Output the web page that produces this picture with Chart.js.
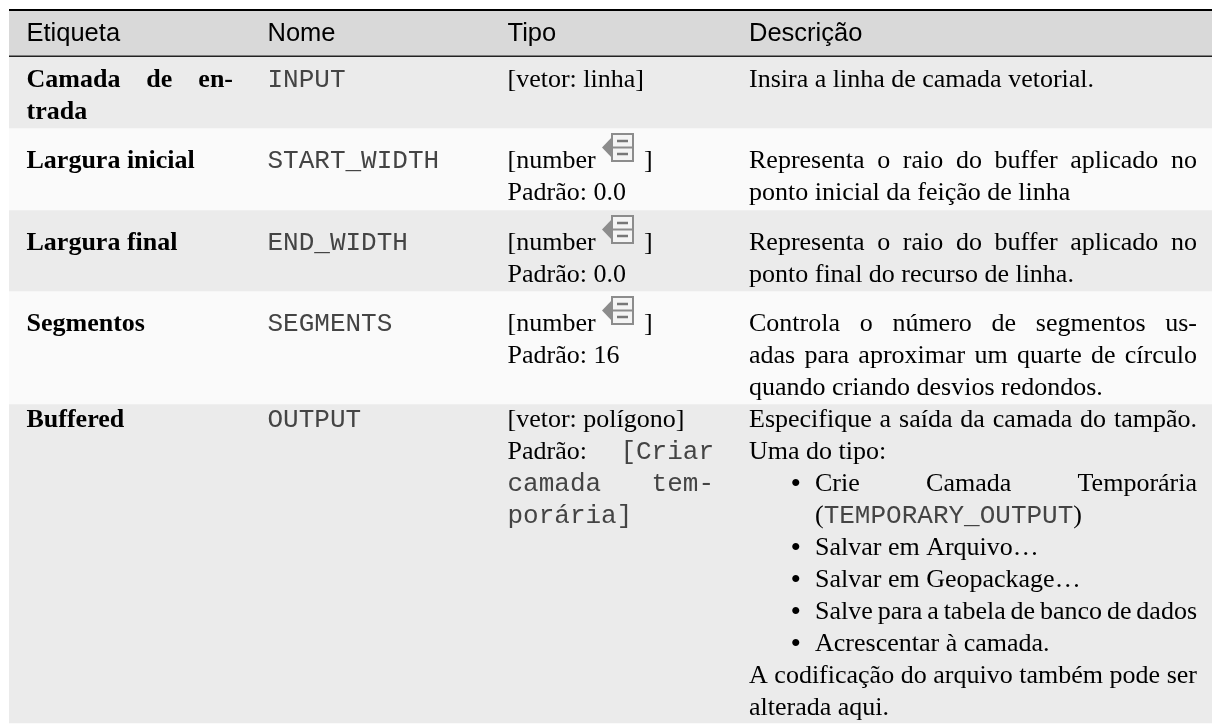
<!DOCTYPE html>
<html lang="pt">
<head>
<meta charset="utf-8">
<style>
  html, body { margin: 0; padding: 0; background: #ffffff; }
  canvas { display: block; }
</style>
<script src="https://cdn.jsdelivr.net/npm/chart.js@4"></script>
</head>
<body>
<canvas id="tabela" width="1212" height="724"></canvas>
<script>
// textos da tabela, coluna por coluna
const cabecalhos = ['Etiqueta', 'Nome', 'Tipo', 'Descrição'];
const etiquetas = [['Camada de en-', 'trada'], ['Largura inicial'], ['Largura final'], ['Segmentos'], ['Buffered']];
const nomes = ['INPUT', 'START_WIDTH', 'END_WIDTH', 'SEGMENTS', 'OUTPUT'];
const tiposLinha1 = ['[vetor: linha]', '[number', '[number', '[number', '[vetor: polígono]'];
const tiposPadrao = ['', 'Padrão: 0.0', 'Padrão: 0.0', 'Padrão: 16', 'Padrão:'];
const tiposMono = [['[Criar'], ['camada', 'tem-'], ['porária]']];
const descricoes = [
    ['Insira a linha de camada vetorial.'],
    ['Representa o raio do buffer aplicado no', 'ponto inicial da feição de linha'],
    ['Representa o raio do buffer aplicado no', 'ponto final do recurso de linha.'],
    ['Controla o número de segmentos us-', 'adas para aproximar um quarte de círculo', 'quando criando desvios redondos.'],
    ['Especifique a saída da camada do tampão.', 'Uma do tipo:']
];
const opcoesSaida = ['Crie Camada Temporária', '', 'Salvar em Arquivo…', 'Salvar em Geopackage…', 'Salve para a tabela de banco de dados', 'Acrescentar à camada.'];
const constanteSaida = 'TEMPORARY_OUTPUT';
const notaSaida = ['A codificação do arquivo também pode ser', 'alterada aqui.'];

// geometria (unidades dos eixos = pixels da imagem)
const colunas = [26.5, 267.5, 507.5, 749];
const fimColunas = [233, 0, 714, 1197];
const bordasFaixas = [11, 56, 128, 210, 291, 404, 723];
const coresFaixas = ['#d9d9d9', '#ebebeb', '#fafafa', '#ebebeb', '#fafafa', '#ebebeb'];
const baseCabecalho = 41;
const basesLinhas = [87, 168, 250, 331, 427];
const alturaLinha = 32;
const recuoLista = 815;
const recuoMarcador = 790.5;
const iconeTopo = [134, 216, 297];

const fonteCabecalho = '25.5px "Liberation Sans"';
const fonteTexto = '26px "Liberation Serif"';
const fonteNegrito = 'bold 26px "Liberation Serif"';
const fonteMono = '26px "Liberation Mono"';
const fonteMarcador = '30px "Liberation Serif"';
const corTexto = '#000000';
const corMono = '#444444';
const corIcone = '#8c8c8c';

const xPx = (chart, v) => chart.scales.xTexto.getPixelForValue(v);
const yPx = (chart, v) => chart.scales.y.getPixelForValue(v);

function escreve(c, texto, x, y, fonte, cor) {
    c.font = fonte;
    c.fillStyle = cor;
    c.textAlign = 'left';
    c.textBaseline = 'alphabetic';
    c.fillText(texto, x, y);
}

// linha justificada: distribui o espaço entre as palavras
function justifica(c, texto, x0, x1, y, fonte, cor) {
    c.font = fonte;
    const palavras = texto.split(' ');
    const total = palavras.reduce((s, p) => s + c.measureText(p).width, 0);
    const vao = (x1 - x0 - total) / (palavras.length - 1);
    let x = x0;
    palavras.forEach(p => {
        escreve(c, p, x, y, fonte, cor);
        x += c.measureText(p).width + vao;
    });
}

function icone(c, chart, topo) {
    const x0 = xPx(chart, 612), x1 = xPx(chart, 633);
    const y0 = yPx(chart, topo), y1 = yPx(chart, topo + 27), meio = yPx(chart, topo + 13.5);
    c.save();
    c.fillStyle = corIcone;
    c.beginPath();
    c.moveTo(xPx(chart, 602), meio);
    c.lineTo(x0 + 1, y0 + 2);
    c.lineTo(x0 + 1, y1 - 2);
    c.closePath();
    c.fill();
    c.fillStyle = '#f4f4f4';
    c.strokeStyle = corIcone;
    c.lineWidth = 2;
    c.fillRect(x0, y0, x1 - x0, y1 - y0);
    c.strokeRect(x0, y0, x1 - x0, y1 - y0);
    c.beginPath();
    c.moveTo(x0, meio);
    c.lineTo(x1, meio);
    c.stroke();
    c.strokeStyle = '#777777';
    c.lineWidth = 2.5;
    c.beginPath();
    c.moveTo(x0 + 5, y0 + 7);
    c.lineTo(x1 - 5, y0 + 7);
    c.moveTo(x0 + 5, y1 - 7);
    c.lineTo(x1 - 5, y1 - 7);
    c.stroke();
    c.restore();
}

const textoTabela = {
    id: 'textoTabela',
    afterDatasetsDraw(chart) {
        const c = chart.ctx;
        const X = colunas.map(v => xPx(chart, v));

        // filetes do cabeçalho
        c.fillStyle = '#000000';
        c.fillRect(xPx(chart, 9), yPx(chart, 9), chart.chartArea.width, 2);
        c.fillStyle = '#222222';
        c.fillRect(xPx(chart, 9), yPx(chart, 55.5), chart.chartArea.width, 1.5);

        cabecalhos.forEach((t, i) => escreve(c, t, X[i], yPx(chart, baseCabecalho), fonteCabecalho, corTexto));

        basesLinhas.forEach((base, r) => {
            const y = n => yPx(chart, base + n * alturaLinha);

            etiquetas[r].forEach((t, n) => {
                if (n < etiquetas[r].length - 1) justifica(c, t, X[0], xPx(chart, fimColunas[0]), y(n), fonteNegrito, corTexto);
                else escreve(c, t, X[0], y(n), fonteNegrito, corTexto);
            });

            escreve(c, nomes[r], X[1], y(0), fonteMono, corMono);
            escreve(c, tiposLinha1[r], X[2], y(0), fonteTexto, corTexto);
            if (tiposPadrao[r]) escreve(c, tiposPadrao[r], X[2], y(1), fonteTexto, corTexto);

            descricoes[r].forEach((t, n) => {
                if (n < descricoes[r].length - 1) justifica(c, t, X[3], xPx(chart, fimColunas[3]), y(n), fonteTexto, corTexto);
                else escreve(c, t, X[3], y(n), fonteTexto, corTexto);
            });
        });

        // fechamento do colchete depois do ícone
        iconeTopo.forEach((topo, i) => {
            icone(c, chart, topo);
            escreve(c, ']', xPx(chart, 644), yPx(chart, basesLinhas[i + 1]), fonteTexto, corTexto);
        });

        // valor padrão do OUTPUT em monoespaçada
        const baseSaida = basesLinhas[4];
        tiposMono.forEach((linha, n) => {
            const y = yPx(chart, baseSaida + (n + 1) * alturaLinha);
            c.font = fonteMono;
            if (linha.length === 2) {
                escreve(c, linha[0], X[2], y, fonteMono, corMono);
                c.font = fonteMono;
                escreve(c, linha[1], xPx(chart, fimColunas[2]) - c.measureText(linha[1]).width, y, fonteMono, corMono);
            } else if (n === 0) {
                escreve(c, linha[0], xPx(chart, fimColunas[2]) - c.measureText(linha[0]).width, y, fonteMono, corMono);
            } else {
                escreve(c, linha[0], X[2], y, fonteMono, corMono);
            }
        });

        // lista de opções da saída
        const xLista = xPx(chart, recuoLista);
        const fimDesc = xPx(chart, fimColunas[3]);
        opcoesSaida.forEach((t, n) => {
            const y = yPx(chart, baseSaida + (n + 2) * alturaLinha);
            if (t === '') {
                escreve(c, '(', xLista, y, fonteTexto, corTexto);
                c.font = fonteTexto;
                const w = c.measureText('(').width;
                escreve(c, constanteSaida, xLista + w, y, fonteMono, corMono);
                c.font = fonteMono;
                const w2 = c.measureText(constanteSaida).width;
                escreve(c, ')', xLista + w + w2, y, fonteTexto, corTexto);
                return;
            }
            c.font = fonteTexto;
            // linhas que ocupam a coluna inteira ficam justificadas (a "Salve" até aperta os espaços)
            if (n === 0 || c.measureText(t).width > fimDesc - xLista) justifica(c, t, xLista, fimDesc, y, fonteTexto, corTexto);
            else escreve(c, t, xLista, y, fonteTexto, corTexto);
            escreve(c, '•', xPx(chart, recuoMarcador), y + 2, fonteMarcador, corTexto);
        });

        notaSaida.forEach((t, n) => {
            const y = yPx(chart, baseSaida + (n + 8) * alturaLinha);
            if (n === 0) justifica(c, t, X[3], fimDesc, y, fonteTexto, corTexto);
            else escreve(c, t, X[3], y, fonteTexto, corTexto);
        });
    }
};

new Chart(document.getElementById('tabela'), {
    type: 'bar',
    data: {
        labels: ['tabela'],
        datasets: coresFaixas.map((cor, i) => ({
            label: 'faixa ' + i,
            data: [[bordasFaixas[i], bordasFaixas[i + 1]]],
            backgroundColor: cor,
            borderWidth: 0,
            barPercentage: 1,
            categoryPercentage: 1,
            grouped: false
        }))
    },
    options: {
        responsive: false,
        animation: false,
        layout: { padding: { left: 9, right: 0, top: 0, bottom: 0 } },
        plugins: { legend: { display: false }, tooltip: { enabled: false } },
        scales: {
            x: { display: false },
            xTexto: { type: 'linear', axis: 'x', display: false, offset: false, min: 9, max: 1212 },
            y: { display: false, reverse: true, min: 0, max: 724 }
        }
    },
    plugins: [textoTabela]
});
</script>
</body>
</html>
